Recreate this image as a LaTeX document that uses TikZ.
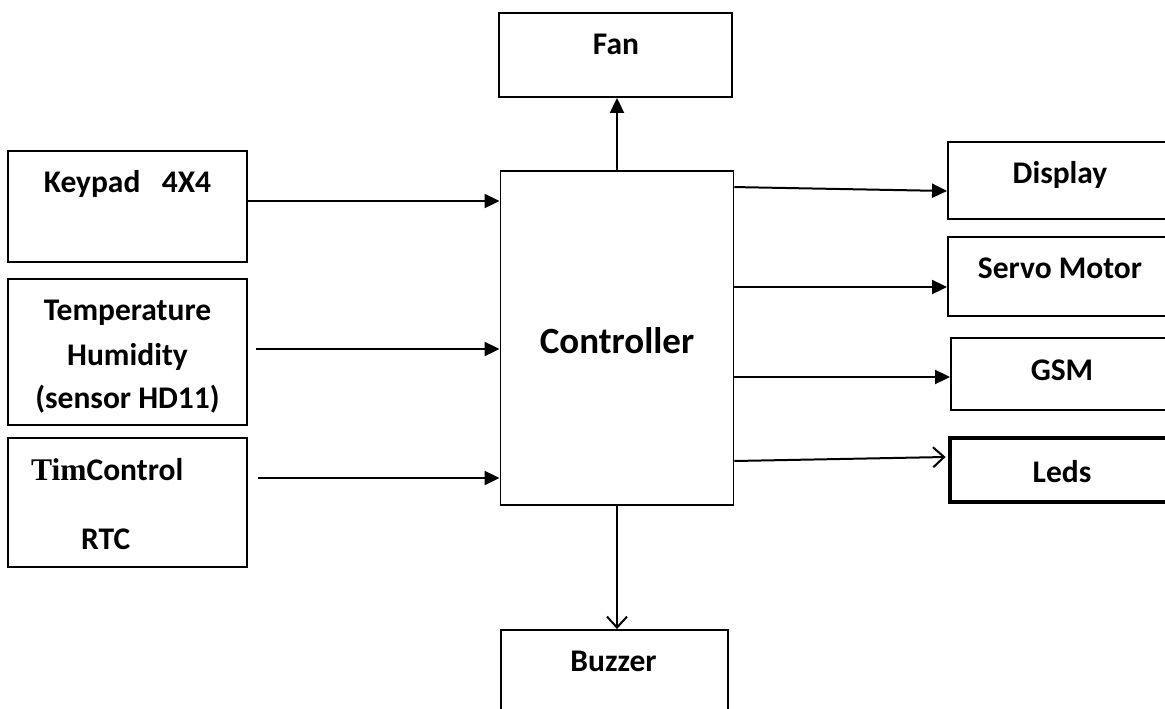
\documentclass[tikz,border=0pt]{standalone}
\usepackage{fontspec}
\setmainfont{Carlito}
\newfontfamily\timesfont{Liberation Serif}
\usetikzlibrary{arrows.meta}
\tikzset{
  box/.style={draw=black, line width=1.9pt, rectangle, inner sep=0pt},
  lbl/.style={inner sep=0pt, anchor=base, font=\fontsize{31.5}{36}\selectfont\bfseries},
  farr/.style={line width=2pt, -{Triangle[length=15pt,width=14pt]}},
  oarr/.style={line width=2pt, -{Straight Barb[length=11pt,width=20pt,line width=2pt]}},
}
\begin{document}
\begin{tikzpicture}[x=1pt,y=-1pt]
\useasboundingbox (0,0) rectangle (1165,709);
\clip (0,0) rectangle (1165,709);
% boxes
\node[box, minimum width=233pt, minimum height=84pt] (fan) at (615.5,55) {};
\node[box, minimum width=233pt, minimum height=334pt] (ctrl) at (617,338) {};
\node[box, minimum width=239pt, minimum height=111pt] (kp) at (127.5,206.5) {};
\node[box, minimum width=239pt, minimum height=146pt] (tmp) at (127.5,352) {};
\node[box, minimum width=239pt, minimum height=129pt] (tim) at (127.5,502.5) {};
\node[box, minimum width=237pt, minimum height=77pt] (disp) at (1066.5,180.5) {};
\node[box, minimum width=237pt, minimum height=79pt] (srv) at (1066.5,276.5) {};
\node[box, minimum width=234pt, minimum height=72pt] (gsm) at (1068,374) {};
\node[box, line width=4.8pt, minimum width=235pt, minimum height=64pt] (leds) at (1067.5,470) {};
\node[box, minimum width=227pt, minimum height=100pt] (buz) at (614.5,680) {};
% labels
\node[lbl] (lfan) at (616,55) {Fan};
\node[lbl, font=\fontsize{37}{44}\selectfont\bfseries] (lctrl) at (617,353) {Controller};
\node[lbl] (lkp) at (127.5,192) {Keypad\ \ \ 4X4};
\node[lbl] (lt1) at (127.5,320) {Temperature};
\node[lbl] (lt2) at (127.5,365) {Humidity};
\node[lbl] (lt3) at (127.5,408) {(sensor HD11)};
\node[lbl, anchor=base west] (ltim) at (31,480) {{\timesfont\bfseries Tim}Control};
\node[lbl, anchor=base west] (lrtc) at (81,549) {RTC};
\node[lbl] (ldisp) at (1060,183) {Display};
\node[lbl] (lsrv) at (1060,278) {Servo Motor};
\node[lbl] (lgsm) at (1062,380) {GSM};
\node[lbl] (lleds) at (1062,482) {Leds};
\node[lbl] (lbuz) at (613.5,671) {Buzzer};
% connectors
\draw[farr] ([yshift=5.5pt]kp.east) -- ([yshift=5.5pt]ctrl.west |- kp.east);
\draw[farr] ([xshift=8pt,yshift=3pt]tmp.east) -- ([yshift=3pt]ctrl.west |- tmp.east);
\draw[farr] ([xshift=10pt,yshift=24.5pt]tim.east) -- ([yshift=24.5pt]ctrl.west |- tim.east);
\draw[farr] (ctrl.north) -- (ctrl.north |- fan.south);
\draw[oarr] (ctrl.south) -- (ctrl.south |- buz.north);
\draw[farr] ([yshift=-17pt]ctrl.north east) -- ([yshift=-10.5pt]disp.west);
\draw[farr] ([yshift=-10.5pt]ctrl.east |- srv.west) -- ([yshift=-10.5pt]srv.west);
\draw[farr] ([yshift=-3pt]ctrl.east |- gsm.west) -- ([yshift=-3pt]gsm.west);
\draw[oarr] ([yshift=9pt]ctrl.east |- leds.west) -- ([xshift=-2pt,yshift=13pt]leds.west);
\end{tikzpicture}
\end{document}
